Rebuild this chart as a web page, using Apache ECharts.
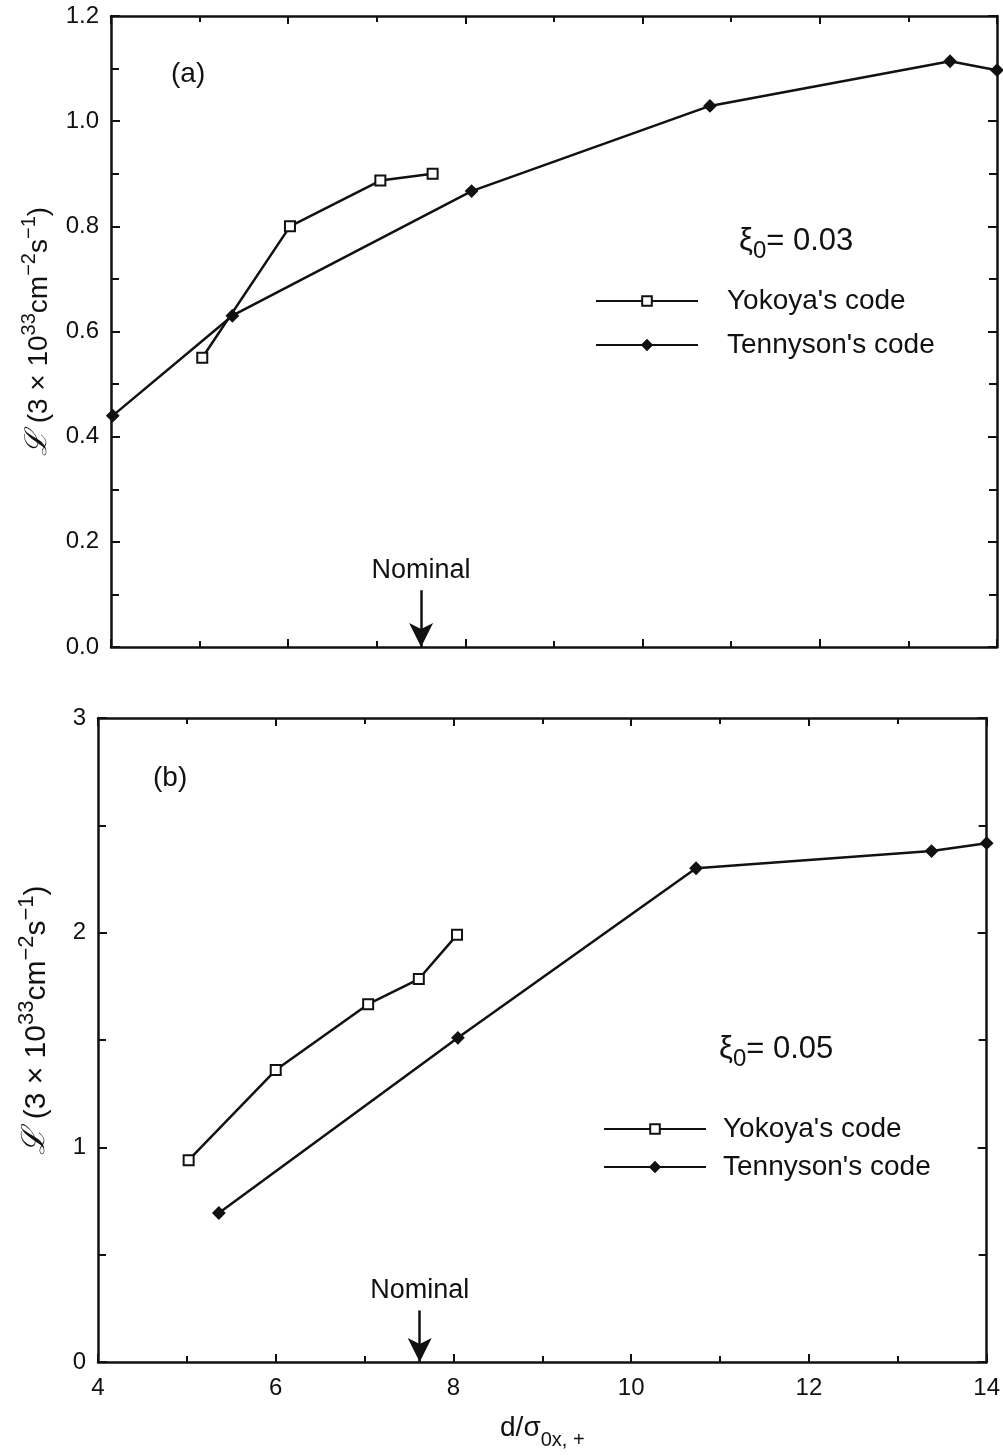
<!DOCTYPE html>
<html>
<head>
<meta charset="utf-8">
<script src="https://cdn.jsdelivr.net/npm/echarts@6/dist/echarts.min.js"></script>
<style>
  html, body { margin: 0; padding: 0; background: #fff; }
  #chart { width: 1003px; height: 1456px; }
</style>
</head>
<body>
<div id="chart"></div>
<script>
// panel (a): xi0 = 0.03
var yokoyaA = [[5.03, 0.55], [6.02, 0.80], [7.04, 0.887], [7.63, 0.90]];
var tennysonA = [[4.02, 0.44], [5.37, 0.63], [8.07, 0.867], [10.76, 1.029], [13.47, 1.114], [14.0, 1.097]];
var nominalA = 7.5;
// panel (b): xi0 = 0.05
var yokoyaB = [[5.02, 0.94], [6.0, 1.36], [7.04, 1.667], [7.61, 1.784], [8.04, 1.99]];
var tennysonB = [[5.36, 0.694], [8.05, 1.51], [10.73, 2.30], [13.38, 2.38], [14.0, 2.417]];
var nominalB = 7.62;

var FONT = 'Liberation Sans, Arial, sans-serif';
var BLACK = '#111';

var chart = echarts.init(document.getElementById('chart'));

function xAxis(grid, pos, labels) {
  return {
    type: 'value', gridIndex: grid, position: pos, min: 4, max: 14, interval: 2,
    axisLine: { show: true, onZero: false, lineStyle: { color: BLACK, width: 2.5 } },
    axisTick: { show: true, inside: true, length: 8, lineStyle: { color: BLACK, width: 2 } },
    minorTick: { show: true, splitNumber: 2, length: 6, lineStyle: { color: BLACK, width: 2 } },
    splitLine: { show: false },
    axisLabel: { show: labels, color: BLACK, fontSize: 24, fontFamily: FONT, margin: 14 }
  };
}

function yAxis(grid, pos, max, interval, labels, digits) {
  return {
    type: 'value', gridIndex: grid, position: pos, min: 0, max: max, interval: interval,
    axisLine: { show: true, onZero: false, lineStyle: { color: BLACK, width: 2.5 } },
    axisTick: { show: true, inside: true, length: 9, lineStyle: { color: BLACK, width: 2 } },
    minorTick: { show: true, splitNumber: 2, length: 8, lineStyle: { color: BLACK, width: 2 } },
    splitLine: { show: false },
    axisLabel: {
      show: labels, color: BLACK, fontSize: 24, fontFamily: FONT, margin: 12,
      formatter: function (v) { return v.toFixed(digits); }
    }
  };
}

var yName = '{l|ℒ}{b| (3 × 10}{sup|33}{b|cm}{sup|−2}{b|s}{sup|−1}{b|)}';
function yNameStyle(size, pad) {
  return {
    color: BLACK, fontSize: size, fontFamily: FONT, padding: pad,
    rich: {
      l: { fontSize: size + 2, fontFamily: 'DejaVu Serif, serif', fontStyle: 'italic', color: BLACK, verticalAlign: 'bottom' },
      b: { fontSize: size, fontFamily: FONT, color: BLACK, verticalAlign: 'bottom' },
      sup: { fontSize: size - 8, fontFamily: FONT, color: BLACK, verticalAlign: 'bottom', padding: [0, 0, 14, 0] }
    }
  };
}

function lineSeries(name, x, y, data, symbol, filled, nomX, nomTop) {
  var s = {
    name: name, type: 'line', xAxisIndex: x, yAxisIndex: y, data: data,
    symbol: symbol, symbolSize: filled ? 11 : 10,
    lineStyle: { color: BLACK, width: 2.5 },
    itemStyle: { color: filled ? BLACK : '#fff', borderColor: BLACK, borderWidth: 2 },
    clip: true, animation: false
  };
  if (nomX) {
    s.markLine = {
      silent: true, animation: false,
      lineStyle: { color: BLACK, width: 2.5, type: 'solid' },
      symbolSize: [18, 24],
      label: {
        show: true, position: 'start', formatter: 'Nominal', distance: 6,
        color: BLACK, fontSize: 27, fontFamily: FONT
      },
      data: [[
        { coord: [nomX, nomTop], symbol: 'none' },
        { coord: [nomX, 0], symbol: 'arrow' }
      ]]
    };
  }
  return s;
}

var titleRich = {
  a: { fontSize: 31, fontFamily: FONT, color: BLACK, fontWeight: 'normal', verticalAlign: 'top' },
  s: { fontSize: 24, fontFamily: FONT, color: BLACK, fontWeight: 'normal', verticalAlign: 'top', padding: [13, 0, 0, 0] }
};
var plainTitle = { fontSize: 28, fontWeight: 'normal', fontFamily: FONT, color: BLACK };
var legendText = { fontSize: 28, fontFamily: FONT, color: BLACK };

chart.setOption({
  backgroundColor: '#fff',
  animation: false,
  title: [
    { text: '(a)', left: 166, top: 55, textStyle: plainTitle },
    { text: '(b)', left: 148, top: 759, textStyle: plainTitle },
    { text: '{a|ξ}{s|0}{a|= 0.03}', left: 734, top: 221, textStyle: { rich: titleRich } },
    { text: '{a|ξ}{s|0}{a|= 0.05}', left: 714, top: 1029, textStyle: { rich: titleRich } }
  ],
  legend: [
    {
      left: 590, top: 282, orient: 'vertical', itemWidth: 102, itemHeight: 12, itemGap: 16,
      data: ["Yokoya's code", "Tennyson's code"],
      textStyle: Object.assign({ padding: [0, 0, 0, 24] }, legendText)
    },
    {
      left: 598, top: 1110, orient: 'vertical', itemWidth: 102, itemHeight: 12, itemGap: 10,
      data: ["Yokoya's code", "Tennyson's code"],
      textStyle: Object.assign({ padding: [0, 0, 0, 12] }, legendText)
    }
  ],
  grid: [
    { left: 111, right: 6, top: 16, height: 631 },
    { left: 98, right: 8, top: 718, height: 644 }
  ],
  xAxis: [
    xAxis(0, 'bottom', false),
    xAxis(0, 'top', false),
    Object.assign(xAxis(1, 'bottom', true), {
      name: '{b|d/σ}{sub|0x, +}', nameLocation: 'middle', nameGap: 52,
      nameTextStyle: {
        color: BLACK, fontSize: 28, fontFamily: FONT, padding: [0, 0, 0, 0],
        rich: {
          b: { fontSize: 28, fontFamily: FONT, color: BLACK, verticalAlign: 'top' },
          sub: { fontSize: 20, verticalAlign: 'top', color: BLACK, fontFamily: FONT, padding: [16, 0, 0, 0] }
        }
      }
    }),
    xAxis(1, 'top', false)
  ],
  yAxis: [
    Object.assign(yAxis(0, 'left', 1.2, 0.2, true, 1), {
      name: yName, nameLocation: 'middle', nameGap: 58, nameRotate: 90, nameTextStyle: yNameStyle(28, 0)
    }),
    yAxis(0, 'right', 1.2, 0.2, false, 1),
    Object.assign(yAxis(1, 'left', 3, 1, true, 0), {
      name: yName, nameLocation: 'middle', nameGap: 46, nameRotate: 90, nameTextStyle: yNameStyle(30, [0, 0, 0, 40])
    }),
    yAxis(1, 'right', 3, 1, false, 0)
  ],
  series: [
    lineSeries("Yokoya's code", 0, 0, yokoyaA, 'rect', false),
    lineSeries("Tennyson's code", 0, 0, tennysonA, 'diamond', true, nominalA, 0.108),
    lineSeries("Yokoya's code", 2, 2, yokoyaB, 'rect', false),
    lineSeries("Tennyson's code", 2, 2, tennysonB, 'diamond', true, nominalB, 0.24)
  ]
});
</script>
</body>
</html>
